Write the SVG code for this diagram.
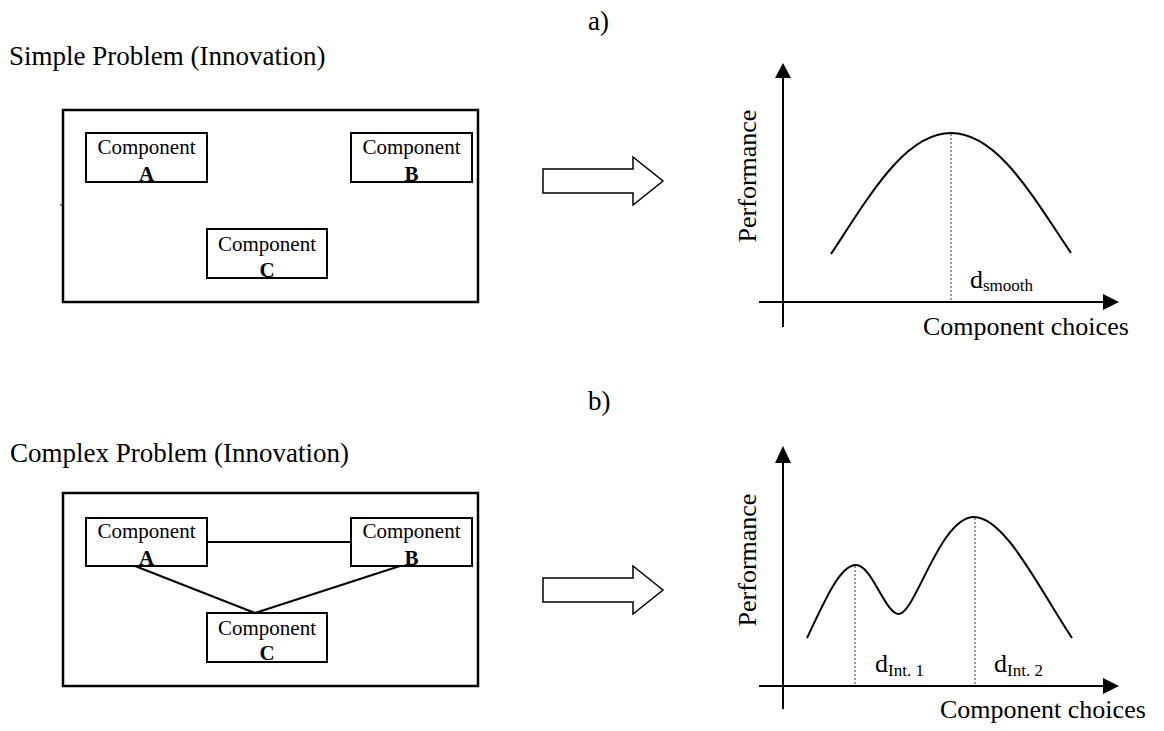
<svg xmlns="http://www.w3.org/2000/svg" width="1164" height="731" viewBox="0 0 1164 731">
<style>
text{font-family:"Liberation Serif","Times New Roman",serif;fill:#000}
.title{font-size:27px}
.lbl{font-size:26px}
.comp{font-size:21px}
.let{font-size:21px;font-weight:bold}
.sub{font-size:17px}
.box{fill:#fff;stroke:#000;stroke-width:2}
.frame{fill:none;stroke:#000;stroke-width:2.5}
.axis{stroke:#000;stroke-width:2;fill:none}
.curve{stroke:#000;stroke-width:2;fill:none}
.dot{stroke:#333;stroke-width:1;stroke-dasharray:2,2;fill:none}
.big{fill:#fff;stroke:#000;stroke-width:1.5}
.link{stroke:#000;stroke-width:2}
</style>

<!-- Panel a -->
<g id="panel-a">
  <text class="title" x="588" y="30">a)</text>
  <text class="title" x="9" y="65">Simple Problem (Innovation)</text>
  <rect class="frame" x="63" y="110" width="415" height="192"/>
  <line x1="60" y1="205" x2="64" y2="205" stroke="#000" stroke-width="1"/>
</g>
<g id="a-compA">
  <rect class="box" x="86" y="133" width="121" height="49"/>
  <text class="comp" x="146.5" y="154" text-anchor="middle">Component</text>
  <text class="let" x="146.5" y="181" text-anchor="middle">A</text>
</g>
<g id="a-compB">
  <rect class="box" x="351" y="133" width="121" height="49"/>
  <text class="comp" x="411.5" y="154" text-anchor="middle">Component</text>
  <text class="let" x="411.5" y="181" text-anchor="middle">B</text>
</g>
<g id="a-compC">
  <rect class="box" x="207" y="229" width="120" height="49"/>
  <text class="comp" x="267" y="251" text-anchor="middle">Component</text>
  <text class="let" x="267" y="277" text-anchor="middle">C</text>
</g>
<g id="a-arrow">
  <polygon class="big" points="543,169 633,169 633,157 663,181 633,205 633,193 543,193"/>
</g>
<g id="a-graph">
  <line class="axis" x1="783" y1="327" x2="783" y2="76"/>
  <polygon points="775,78 791,78 783,63" fill="#000"/>
  <line class="axis" x1="759" y1="302" x2="1105" y2="302"/>
  <polygon points="1103,294 1103,310 1119,302" fill="#000"/>
  <path class="curve" d="M831,254 C870,195 905,133 951,133 C997,133 1032,195 1071,253"/>
  <line class="dot" x1="951" y1="134" x2="951" y2="302"/>
  <text class="lbl" x="970" y="288">d<tspan class="sub" dy="3">smooth</tspan></text>
  <text class="lbl" x="923" y="335">Component choices</text>
  <text class="lbl" transform="translate(756,176) rotate(-90)" text-anchor="middle">Performance</text>
</g>

<!-- Panel b -->
<g id="panel-b">
  <text class="title" x="588" y="410">b)</text>
  <text class="title" x="10" y="462">Complex Problem (Innovation)</text>
  <rect class="frame" x="63" y="493" width="415" height="193"/>
</g>
<g id="b-connectors">
  <line class="link" x1="207" y1="542" x2="351" y2="542"/>
  <line class="link" x1="135" y1="566" x2="255" y2="613"/>
  <line class="link" x1="400" y1="566" x2="255" y2="613"/>
</g>
<g id="b-compA">
  <rect class="box" x="86" y="518" width="121" height="48"/>
  <text class="comp" x="146.5" y="538" text-anchor="middle">Component</text>
  <text class="let" x="146.5" y="565" text-anchor="middle">A</text>
</g>
<g id="b-compB">
  <rect class="box" x="351" y="518" width="121" height="48"/>
  <text class="comp" x="411.5" y="538" text-anchor="middle">Component</text>
  <text class="let" x="411.5" y="565" text-anchor="middle">B</text>
</g>
<g id="b-compC">
  <rect class="box" x="207" y="613" width="120" height="49"/>
  <text class="comp" x="267" y="635" text-anchor="middle">Component</text>
  <text class="let" x="267" y="660" text-anchor="middle">C</text>
</g>
<g id="b-arrow">
  <polygon class="big" points="543,578 633,578 633,566 663,590 633,614 633,602 543,602"/>
</g>
<g id="b-graph">
  <line class="axis" x1="783" y1="709" x2="783" y2="461"/>
  <polygon points="775,463 791,463 783,446" fill="#000"/>
  <line class="axis" x1="759" y1="686" x2="1105" y2="686"/>
  <polygon points="1103,678 1103,694 1119,686" fill="#000"/>
  <path class="curve" d="M807,638 C825,600 840,565 856,565 C872,565 885,614 899,614 C915,614 940,517 974,517 C1005,517 1040,590 1072,638"/>
  <line class="dot" x1="855" y1="566" x2="855" y2="686"/>
  <line class="dot" x1="975" y1="518" x2="975" y2="686"/>
  <text class="lbl" x="875" y="672">d<tspan class="sub" dy="4">Int. 1</tspan></text>
  <text class="lbl" x="994" y="672">d<tspan class="sub" dy="4">Int. 2</tspan></text>
  <text class="lbl" x="940" y="718">Component choices</text>
  <text class="lbl" transform="translate(756,560) rotate(-90)" text-anchor="middle">Performance</text>
</g>
</svg>
